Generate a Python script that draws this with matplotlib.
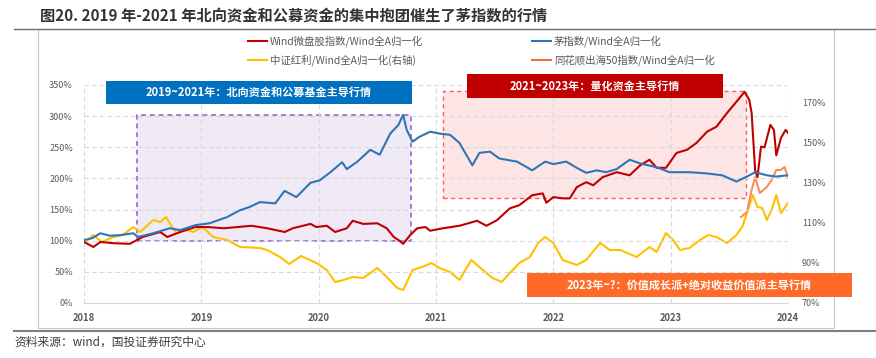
import numpy as np
import matplotlib
matplotlib.use("Agg")
import matplotlib.pyplot as plt
from matplotlib.patches import Rectangle
from matplotlib.lines import Line2D

# 数据：横轴为年份(小数)，左轴为百分比
micro_x = [2018.00, 2018.08, 2018.14, 2018.25, 2018.39, 2018.50, 2018.65, 2018.71, 2018.82, 2018.95,
           2019.05, 2019.19, 2019.31, 2019.43, 2019.56, 2019.71, 2019.78, 2019.93, 2019.98, 2020.07,
           2020.14, 2020.24, 2020.29, 2020.38, 2020.50, 2020.58, 2020.64, 2020.68, 2020.72, 2020.78,
           2020.84, 2020.91, 2020.95, 2021.06, 2021.20, 2021.35, 2021.43, 2021.52, 2021.63, 2021.71,
           2021.82, 2021.91, 2021.94, 2022.00, 2022.08, 2022.14, 2022.20, 2022.28, 2022.34, 2022.42,
           2022.54, 2022.65, 2022.74, 2022.82, 2022.88, 2022.96, 2023.05, 2023.14, 2023.22, 2023.31,
           2023.39, 2023.48, 2023.56, 2023.63, 2023.67, 2023.69, 2023.72, 2023.74, 2023.77, 2023.80,
           2023.85, 2023.88, 2023.90, 2023.94, 2023.98, 2024.00]
micro_y = [98, 90, 98, 96, 95, 106, 114, 106, 114, 122,
           122, 120, 122, 124, 120, 114, 120, 127, 122, 124,
           114, 120, 132, 127, 128, 120, 106, 101, 95, 109,
           120, 122, 116, 120, 124, 132, 124, 133, 152, 157,
           173, 176, 161, 170, 168, 168, 186, 194, 189, 202,
           210, 205, 221, 230, 217, 217, 241, 246, 257, 275,
           283, 305, 323, 339, 326, 305, 213, 202, 251, 250,
           286, 278, 237, 265, 278, 273]

mao_x = [2018.00, 2018.07, 2018.14, 2018.22, 2018.31, 2018.42, 2018.46, 2018.59, 2018.73, 2018.82,
         2018.95, 2019.07, 2019.22, 2019.33, 2019.41, 2019.50, 2019.63, 2019.71, 2019.81, 2019.93,
         2020.01, 2020.10, 2020.20, 2020.24, 2020.33, 2020.44, 2020.52, 2020.61, 2020.68, 2020.72,
         2020.75, 2020.80, 2020.86, 2020.95, 2021.03, 2021.12, 2021.20, 2021.31, 2021.37, 2021.46,
         2021.54, 2021.69, 2021.82, 2021.93, 2022.00, 2022.11, 2022.20, 2022.28, 2022.37, 2022.45,
         2022.54, 2022.65, 2022.74, 2022.88, 2022.99, 2023.16, 2023.31, 2023.44, 2023.56, 2023.65,
         2023.72, 2023.82, 2023.90, 2024.00]
mao_y = [101, 104, 112, 108, 109, 112, 106, 112, 120, 117,
         125, 128, 138, 149, 154, 162, 160, 180, 170, 193,
         197, 210, 226, 215, 227, 246, 238, 272, 286, 302,
         278, 259, 267, 275, 272, 270, 257, 221, 241, 243,
         232, 227, 213, 227, 223, 227, 217, 209, 213, 210,
         215, 230, 224, 218, 210, 210, 208, 205, 195, 203,
         210, 205, 203, 205]

# 右轴
div_x = [2018.00, 2018.08, 2018.15, 2018.25, 2018.33, 2018.42, 2018.48, 2018.59, 2018.65, 2018.70,
         2018.75, 2018.79, 2018.88, 2018.93, 2019.01, 2019.10, 2019.22, 2019.33, 2019.50, 2019.56,
         2019.67, 2019.75, 2019.85, 2019.98, 2020.07, 2020.14, 2020.21, 2020.29, 2020.38, 2020.50,
         2020.58, 2020.67, 2020.72, 2020.80, 2020.88, 2020.96, 2021.03, 2021.12, 2021.20, 2021.30,
         2021.40, 2021.48, 2021.56, 2021.63, 2021.71, 2021.80, 2021.87, 2021.93, 2022.00, 2022.08,
         2022.20, 2022.28, 2022.37, 2022.40, 2022.48, 2022.57, 2022.71, 2022.82, 2022.88, 2022.96,
         2023.02, 2023.08, 2023.16, 2023.25, 2023.32, 2023.39, 2023.48, 2023.56, 2023.61, 2023.65,
         2023.70, 2023.74, 2023.78, 2023.82, 2023.86, 2023.90, 2023.94, 2024.00]
div_y = [100, 104, 100.5, 103, 104, 108, 105.5, 111.5, 110.5, 113,
         108, 105, 106.5, 105.5, 108, 103, 101.5, 98, 97.5, 96.5,
         93, 89.5, 93.5, 90, 86.5, 80.5, 81.5, 83, 82.5, 87.5,
         83, 77.5, 76.5, 86.5, 88, 90, 87.5, 85.5, 81.5, 91.5,
         86.5, 82.5, 80.5, 85, 90, 93, 100, 103, 100, 91.5,
         89, 91.5, 98, 100, 96.5, 96.5, 93, 98, 95.5, 105,
         101.5, 96.5, 97.5, 101.5, 104, 103, 100, 104, 108, 115,
         124, 118, 117.5, 111.5, 116.5, 124, 115, 120]

chuhai_x = [2023.60, 2023.65, 2023.69, 2023.72, 2023.76, 2023.82, 2023.86, 2023.90, 2023.94, 2023.97, 2024.00]
chuhai_y = [113, 115.5, 126.5, 133, 125, 128, 131.5, 136.5, 136.5, 138, 133]

labels = ["Wind微盘股指数/Wind全A归一化", "中证红利/Wind全A归一化(右轴)",
          "茅指数/Wind全A归一化", "同花顺出海50指数/Wind全A归一化"]
years = [2018, 2019, 2020, 2021, 2022, 2023, 2024]
left_ticks = [0, 50, 100, 150, 200, 250, 300, 350]
right_ticks = [70, 90, 110, 130, 150, 170]

# 阶段区间
period1 = (2018.45, 2020.79, 100, 302)
period2 = (2021.06, 2023.64, 168, 340)

title = "图20. 2019 年-2021 年北向资金和公募资金的集中抱团催生了茅指数的行情"
source = "资料来源：wind，国投证券研究中心"

RED = "#C00000"
BLUE = "#2E75B6"
YELLOW = "#FFC000"
ORANGE = "#FF8A5C"


def draw():
    plt.rcParams['font.family'] = ['Noto Sans CJK SC', 'DejaVu Sans']
    W, H = 876, 358
    fig = plt.figure(figsize=(W / 100, H / 100), dpi=100)
    ax = fig.add_axes([84 / W, 1 - 303 / H, 704 / W, 218 / H])
    ax2 = ax.twinx()
    ax.set_zorder(ax2.get_zorder() + 1)
    ax.patch.set_visible(False)

    # 阴影区间画在右轴下面，才不会挡住右轴的线
    x0, x1, y0, y1 = period1
    ax2.add_patch(Rectangle((x0, y0), x1 - x0, y1 - y0, transform=ax.transData, facecolor="#EFEAF6",
                            edgecolor="#A57CD3", lw=1.4, linestyle=(0, (2.5, 2)), zorder=0))
    x0, x1, y0, y1 = period2
    ax2.add_patch(Rectangle((x0, y0), x1 - x0, y1 - y0, transform=ax.transData, facecolor="#FDE5E6",
                            edgecolor="#FF5B5B", lw=1.0, linestyle=(0, (3, 2.5)), zorder=0))

    l1, = ax.plot(micro_x, micro_y, color=RED, lw=1.5, zorder=3)
    l3, = ax.plot(mao_x, mao_y, color=BLUE, lw=1.5, zorder=3)
    l2, = ax2.plot(div_x, div_y, color=YELLOW, lw=1.5, zorder=3)
    l4, = ax2.plot(chuhai_x, chuhai_y, color=ORANGE, lw=1.5, zorder=3)

    ax.set_xlim(2018, 2024)
    ax.set_ylim(0, 350)
    ax2.set_ylim(70, 70 + 218 / 2)
    ax.set_xticks(years)
    ax.set_xticklabels([str(y) for y in years], fontsize=6.8, fontweight='bold', color="#595959")
    ax.set_yticks(left_ticks)
    ax.set_yticklabels(["%d%%" % v for v in left_ticks], fontsize=6.5, color="#595959")
    ax2.set_yticks(right_ticks)
    ax2.set_yticklabels(["%d%%" % v for v in right_ticks], fontsize=6.5, color="#595959")
    ax.tick_params(axis='both', length=0)
    ax.tick_params(axis='x', pad=7)
    ax.tick_params(axis='y', pad=8)
    ax2.tick_params(axis='y', length=0, pad=10)
    ax2.grid(False)
    ax.grid(True, color="#D9D9D9", lw=0.8, linestyle=(0, (4, 3)))
    for s in ['top', 'left', 'right']:
        ax.spines[s].set_visible(False)
        ax2.spines[s].set_visible(False)
    ax.spines['bottom'].set_color("#D9D9D9")
    ax2.spines['bottom'].set_visible(False)

    # 标题框
    boxes = [
        (106, 81, 412, 104, "#0070C0", "2019~2021年：北向资金和公募基金主导行情"),
        (467, 74, 723, 98, "#C00000", "2021~2023年：量化资金主导行情"),
        (527, 273, 852, 297, "#FF6A28", "2023年~?：价值成长派+绝对收益价值派主导行情"),
    ]
    for bx0, by0, bx1, by1, c, t in boxes:
        fig.add_artist(Rectangle((bx0 / W, 1 - by1 / H), (bx1 - bx0) / W, (by1 - by0) / H,
                                 transform=fig.transFigure, facecolor=c, edgecolor="none", zorder=5))
        fig.text((bx0 + bx1) / 2 / W, 1 - (by0 + by1) / 2 / H, t, color="white", fontsize=8,
                 fontweight='bold', ha='center', va='center', zorder=6)

    # 图例
    leg_kw = dict(loc='upper left', frameon=False, fontsize=7.5, handlelength=1.8, handletextpad=0.3,
                  borderpad=0, borderaxespad=0, labelspacing=0.75, labelcolor="#595959")
    fig.legend([l1, l2], labels[:2], bbox_to_anchor=(248 / W, 1 - 35 / H), **leg_kw)
    fig.legend([l3, Line2D([], [], color="#F07040", lw=1.5)], labels[2:],
               bbox_to_anchor=(532 / W, 1 - 35 / H), **leg_kw)

    # 标题和外框
    fig.text(40 / W, 1 - 16 / H, title, fontsize=11, fontweight='bold', color="#333333",
             ha='left', va='center')
    fig.add_artist(Line2D([14 / W, 1], [1 - 29 / H] * 2, color="#6F6F6F", lw=1.0))
    fig.add_artist(Rectangle((38 / W, 1 - 328 / H), (834 - 38) / W, (328 - 29) / H,
                             transform=fig.transFigure, facecolor="none", edgecolor="#C8C8C8", lw=0.8))
    fig.add_artist(Line2D([14 / W, 1], [1 - 331 / H] * 2, color="#7F7F7F", lw=1.5))
    fig.text(14 / W, 1 - 342 / H, source, fontsize=8.5, style='italic', color="#404040",
             ha='left', va='center')

    fig.savefig("out.png", dpi=100)


def main():
    draw()


if __name__ == "__main__":
    main()
